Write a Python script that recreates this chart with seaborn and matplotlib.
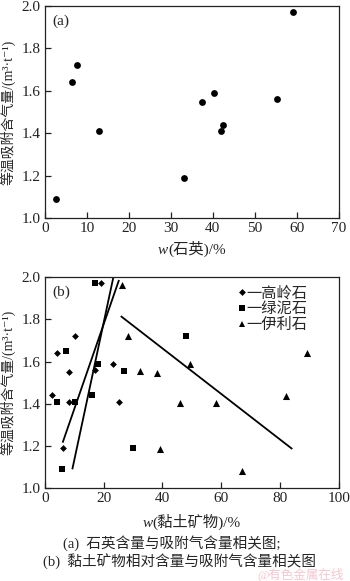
import matplotlib
matplotlib.use("Agg")
import matplotlib.pyplot as plt
from matplotlib.lines import Line2D
from matplotlib.offsetbox import TextArea, HPacker, AnnotationBbox
import seaborn as sns
import pandas as pd

# (a) quartz content vs. adsorbed gas
quartz_w = [2.6, 6.4, 7.6, 12.9, 33.1, 37.5, 40.2, 41.9, 42.4, 55.2, 59.0]
quartz_gas = [1.09, 1.64, 1.72, 1.41, 1.19, 1.55, 1.59, 1.41, 1.44, 1.56, 1.97]

# (b) relative clay mineral content vs. adsorbed gas
kaolinite_w = [2.3, 4.2, 8.2, 8.2, 10.1, 6.0, 17.1, 19.1, 23.3, 25.3]
kaolinite_gas = [1.44, 1.64, 1.55, 1.41, 1.72, 1.19, 1.56, 1.97, 1.59, 1.41]
chlorite_w = [4.2, 7.3, 10.1, 5.9, 16.0, 17.0, 17.9, 27.0, 30.1, 48.0]
chlorite_gas = [1.41, 1.65, 1.41, 1.09, 1.44, 1.97, 1.59, 1.555, 1.19, 1.72]
illite_w = [26.1, 28.2, 32.2, 38.3, 39.3, 46.1, 49.3, 58.1, 67.1, 82.1, 89.2]
illite_gas = [1.96, 1.72, 1.557, 1.546, 1.185, 1.405, 1.587, 1.405, 1.08, 1.437, 1.64]

# trend lines (start/end x and y)
kaolinite_fit_x = [6.0, 25.2]
kaolinite_fit_y = [1.216, 1.986]
chlorite_fit_x = [9.3, 23.6]
chlorite_fit_y = [1.09, 2.02]
illite_fit_x = [25.8, 84.2]
illite_fit_y = [1.815, 1.186]

mineral_names = ["一高岭石", "一绿泥石", "一伊利石"]

sns.set_style("ticks")
FAMILY = ["Liberation Serif", "Noto Sans CJK SC", "DejaVu Sans"]
plt.rcParams["font.family"] = FAMILY
plt.rcParams["axes.unicode_minus"] = False

W, H = 350, 581
fig = plt.figure(figsize=(W / 100, H / 100), dpi=100)
ax_a = fig.add_axes([45 / W, 1 - 218.3 / H, 293.7 / W, 212.3 / H])
ax_b = fig.add_axes([45 / W, 1 - 488.3 / H, 293.7 / W, 211.3 / H])

tick_fs = 11
ylab = "等温吸附含气量/(m³·t⁻¹)"


def w_label(ax, rest, ypos):
    """x-axis title: italic w followed by the upright remainder."""
    parts = HPacker(children=[
        TextArea("w", textprops=dict(fontsize=11, style="italic",
                                     family=FAMILY)),
        TextArea(rest, textprops=dict(fontsize=11, family=FAMILY)),
    ], align="baseline", pad=0, sep=0)
    ab = AnnotationBbox(parts, (0.5, ypos), xycoords="axes fraction",
                        box_alignment=(0.5, 1.0), frameon=False, pad=0,
                        annotation_clip=False)
    ax.add_artist(ab)


for ax in (ax_a, ax_b):
    for s in ax.spines.values():
        s.set_linewidth(0.9)
        s.set_color("#222222")
        s.set_visible(True)
    ax.tick_params(direction="in", length=4, width=0.9, labelsize=tick_fs,
                   colors="#222222", pad=3, top=False, right=False)
    ax.set_ylim(1.0, 2.0)
    ax.set_yticks([1.0, 1.2, 1.4, 1.6, 1.8, 2.0])
    ax.set_yticklabels(["1.0", "1.2", "1.4", "1.6", "1.8", "2.0"])

# panel (a)
df_a = pd.DataFrame({"w": quartz_w, "gas": quartz_gas})
sns.scatterplot(data=df_a, x="w", y="gas", ax=ax_a, color="black", s=24,
                marker="o", edgecolor="black", linewidth=0)
ax_a.set_xlim(0, 70)
ax_a.set_xticks(range(0, 71, 10))
ax_a.set_xlabel("")
w_label(ax_a, "(石英)/%", -0.105)
ax_a.set_ylabel(ylab, fontsize=10)
ax_a.yaxis.set_label_coords(-0.1, 0.5)
ax_a.text(0.025, 0.96, "(a)", transform=ax_a.transAxes, fontsize=11,
          va="top", ha="left")

# panel (b)
df_b = pd.concat([
    pd.DataFrame({"w": kaolinite_w, "gas": kaolinite_gas, "m": mineral_names[0]}),
    pd.DataFrame({"w": chlorite_w, "gas": chlorite_gas, "m": mineral_names[1]}),
    pd.DataFrame({"w": illite_w, "gas": illite_gas, "m": mineral_names[2]}),
])
markers = {mineral_names[0]: "D", mineral_names[1]: "s", mineral_names[2]: "^"}
sizes = {mineral_names[0]: 12, mineral_names[1]: 24, mineral_names[2]: 26}
for name in mineral_names:
    sub = df_b[df_b["m"] == name]
    sns.scatterplot(data=sub, x="w", y="gas", ax=ax_b, color="black",
                    marker=markers[name], s=sizes[name], linewidth=0,
                    legend=False)
for fx, fy in ((kaolinite_fit_x, kaolinite_fit_y),
               (chlorite_fit_x, chlorite_fit_y),
               (illite_fit_x, illite_fit_y)):
    ax_b.plot(fx, fy, color="black", lw=1.3, solid_capstyle="butt")

ax_b.set_xlim(0, 100)
ax_b.set_xticks(range(0, 101, 20))
ax_b.set_xlabel("")
w_label(ax_b, "(黏土矿物)/%", -0.12)
ax_b.set_ylabel(ylab, fontsize=10)
ax_b.yaxis.set_label_coords(-0.1, 0.5)
ax_b.text(0.025, 0.96, "(b)", transform=ax_b.transAxes, fontsize=11,
          va="top", ha="left")

handles = [Line2D([], [], ls="none", marker=markers[n], color="black",
                  markersize=ms, markeredgewidth=0)
           for n, ms in zip(mineral_names, (3.5, 4.5, 5))]
leg = ax_b.legend(handles, mineral_names, loc="upper right",
                  bbox_to_anchor=(0.925, 1.0), frameon=False, fontsize=11,
                  handlelength=0.6, handletextpad=0.0, labelspacing=0.12,
                  borderaxespad=0.2)

# captions
fig.text(63 / W, 1 - 542.7 / H, "(a)  石英含量与吸附气含量相关图;", fontsize=10.5,
         ha="left", va="center")
fig.text(43 / W, 1 - 561.7 / H, "(b)  黏土矿物相对含量与吸附气含量相关图", fontsize=10.5,
         ha="left", va="center")
fig.text(257 / W, 1 - 575 / H, "@有色金属在线", fontsize=9, color="#f2b8c4",
         ha="left", va="center", alpha=0.8)

fig.savefig("out.png", dpi=100)
